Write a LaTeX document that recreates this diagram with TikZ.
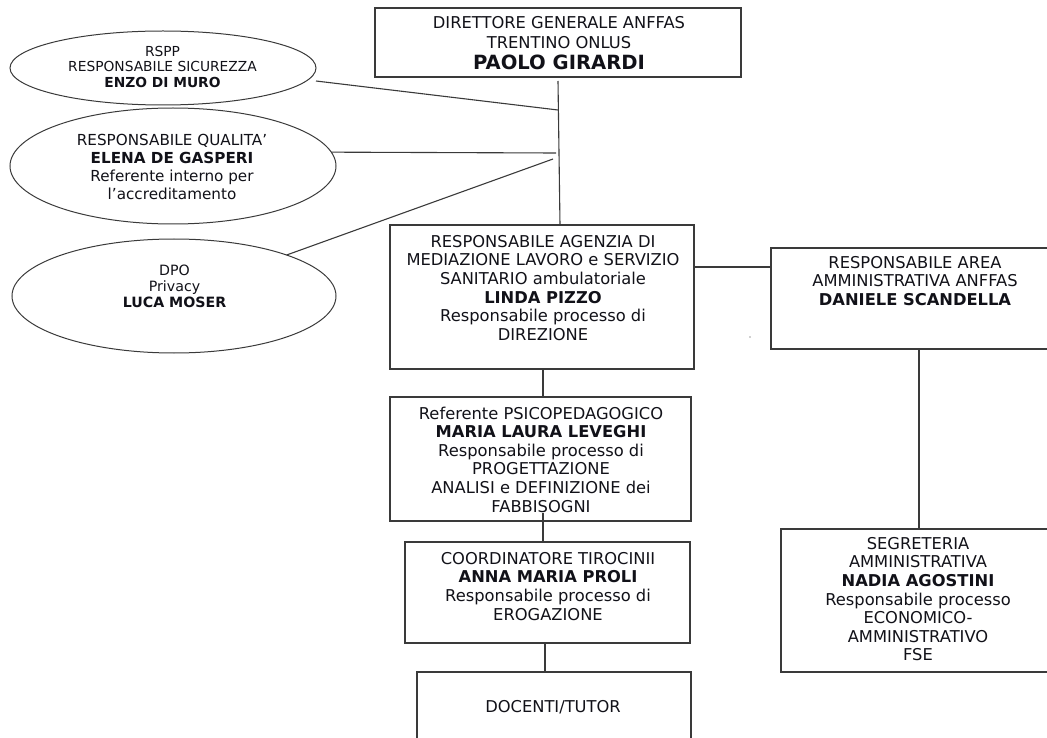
\documentclass[tikz,border=0pt]{standalone}
\usepackage{fontspec}
\setmainfont{DejaVu Sans}
\usetikzlibrary{shapes.geometric,calc}
\definecolor{linec}{HTML}{3A3A3A}
\definecolor{textc}{HTML}{111118}
\begin{document}
\begin{tikzpicture}[x=1pt,y=-1pt,
  box/.style={draw=linec, line width=1.1pt, rectangle, inner sep=0pt, outer sep=0pt},
  oval/.style={draw=linec, line width=1pt, ellipse, inner sep=0pt, outer sep=0pt},
  conn/.style={draw=linec, line width=1.1pt},
  txt/.style={anchor=north, align=center, inner sep=0pt, text=textc, font=\fontsize{16.3}{18.6}\selectfont},
  otxt/.style={anchor=north, align=center, inner sep=0pt, text=textc},
]
\useasboundingbox (0,0) rectangle (1047,738);

% boxes
\node[box, minimum width=366pt, minimum height=69pt] (dir) at (558,42.5) {};
\node[box, minimum width=304pt, minimum height=144pt] (linda) at (542,297) {};
\node[box, minimum width=289pt, minimum height=101pt] (area) at (915.5,298.5) {};
\node[box, minimum width=279pt, minimum height=143pt] (seg) at (920.5,600.5) {};
\node[box, minimum width=301pt, minimum height=124pt] (ref) at (540.5,459) {};
\node[box, minimum width=285pt, minimum height=101pt] (coord) at (547.5,592.5) {};
\node[box, minimum width=274pt, minimum height=90pt] (doc) at (554,717) {};

% ellipses
\node[oval, minimum width=306pt, minimum height=74pt] (e1) at (163,68) {};
\node[oval, minimum width=326pt, minimum height=116pt] (e2) at (173,166) {};
\node[oval, minimum width=324pt, minimum height=114pt] (e3) at (174,296) {};

% texts
\node[otxt, font=\fontsize{16.3}{20}\selectfont] (tdir) at (559,16.05) {DIRETTORE GENERALE ANFFAS\\TRENTINO ONLUS};
\node[text=textc, inner sep=0pt, font=\fontsize{19.6}{20}\selectfont\bfseries] (tdirn) at (559,62) {PAOLO GIRARDI};
\node[txt] (tlinda) at (543,235.05) {RESPONSABILE AGENZIA DI\\MEDIAZIONE LAVORO e SERVIZIO\\SANITARIO ambulatoriale\\\textbf{LINDA PIZZO}\\Responsabile processo di\\DIREZIONE};
\node[txt] (tarea) at (915,256.05) {RESPONSABILE AREA\\AMMINISTRATIVA ANFFAS\\\textbf{DANIELE SCANDELLA}};
\node[txt] (tref) at (541,406.6) {Referente PSICOPEDAGOGICO\\\textbf{MARIA LAURA LEVEGHI}\\Responsabile processo di\\PROGETTAZIONE\\ANALISI e DEFINIZIONE dei\\FABBISOGNI};
\node[txt] (tcoord) at (548,552.05) {COORDINATORE TIROCINII\\\textbf{ANNA MARIA PROLI}\\Responsabile processo di\\EROGAZIONE};
\node[txt] (tseg) at (918,537.05) {SEGRETERIA\\AMMINISTRATIVA\\\textbf{NADIA AGOSTINI}\\Responsabile processo\\ECONOMICO-\\AMMINISTRATIVO\\FSE};
\node[text=textc, inner sep=0pt, font=\fontsize{16.3}{18.6}\selectfont] (tdoc) at (553,707) {DOCENTI/TUTOR};
\node[otxt, font=\fontsize{13.8}{15.5}\selectfont] (te1) at (162.5,45.96) {RSPP\\RESPONSABILE SICUREZZA\\\textbf{ENZO DI MURO}};
\node[otxt, font=\fontsize{15.2}{17.7}\selectfont] (te2) at (172,134.45) {RESPONSABILE QUALITA’\\\textbf{ELENA DE GASPERI}\\Referente interno per\\l’accreditamento};
\node[otxt, font=\fontsize{14.2}{16}\selectfont] (te3) at (174.5,264.8) {DPO\\Privacy\\\textbf{LUCA MOSER}};

% junction coordinates on the vertical line
\coordinate (j1) at (558,110);
\coordinate (j2) at (556,153);
\coordinate (j3) at (553,159);

% connectors
\draw[conn] ([yshift=-4pt]dir.south) -- ([xshift=18pt]linda.north);
\draw[conn] ([yshift=-13pt]e1.east) -- (j1);
\draw[conn] (e2.5) -- (j2);
\draw[conn] (e3.20) -- (j3);
\draw[conn] ([yshift=30pt]linda.east) -- ([yshift=30pt]linda.east -| area.west);
\draw[conn] ([xshift=3.5pt]area.south) -- ([xshift=3.5pt]area.south |- seg.north);
\draw[conn] ([xshift=1pt]linda.south) -- ([xshift=1pt]linda.south |- ref.north);
\draw[conn] ([xshift=2.5pt,yshift=8pt]ref.south) -- ([xshift=2.5pt]ref.south |- coord.north);
\draw[conn] ([xshift=-2.5pt]coord.south) -- ([xshift=-2.5pt]coord.south |- doc.north);

% stray dot
\fill[linec] (750,337) circle (0.6pt);
\end{tikzpicture}
\end{document}
